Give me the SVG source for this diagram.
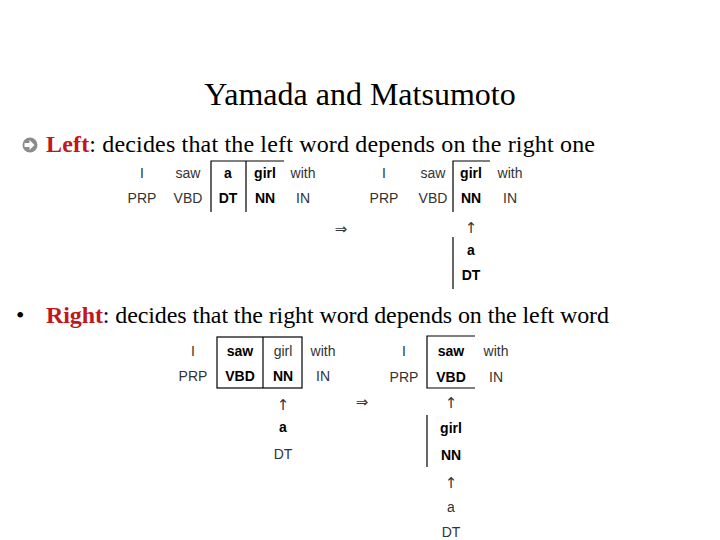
<svg xmlns="http://www.w3.org/2000/svg" width="720" height="540" viewBox="0 0 720 540">
<style>
.title{font-family:"Liberation Serif","Times New Roman",serif;font-size:32px;fill:#000}
.body{font-family:"Liberation Serif","Times New Roman",serif;font-size:24px;fill:#000}
.key{font-weight:bold;fill:#c0171e}
.t{font-family:"Liberation Sans",Arial,sans-serif;font-size:14px;fill:#333;text-anchor:middle}
.b{font-weight:bold;fill:#000}
.arr{font-family:"DejaVu Sans",sans-serif;font-size:15px;fill:#333;text-anchor:middle}
.imp{font-family:"DejaVu Sans",sans-serif;font-size:15px;fill:#333;text-anchor:middle}
.ln{stroke:#000;stroke-width:1.2;fill:none}
</style>
<rect width="720" height="540" fill="#fff"/>
<text class="title" x="360" y="105" text-anchor="middle">Yamada and Matsumoto</text>

<g id="bullet-left">
  <circle cx="30" cy="145" r="7.5" fill="#8c8c8c"/>
  <path d="M24.5,143 h5 v-3 l5,5 l-5,5 v-3 h-5 z" fill="#fff"/>
  <text class="body" x="46" y="152" textLength="549" lengthAdjust="spacing"><tspan class="key">Left</tspan>: decides that the left word depends on the right one</text>
</g>

<g id="left-before">
  <text class="t" x="142" y="178">I</text>
  <text class="t" x="188" y="178">saw</text>
  <text class="t b" x="228" y="178">a</text>
  <text class="t b" x="265" y="178">girl</text>
  <text class="t" x="303" y="178">with</text>
  <text class="t" x="142" y="203">PRP</text>
  <text class="t" x="188" y="203">VBD</text>
  <text class="t b" x="228" y="203">DT</text>
  <text class="t b" x="265" y="203">NN</text>
  <text class="t" x="303" y="203">IN</text>
  <path class="ln" d="M211,212 V161 H284 M246,161 V212"/>
</g>

<text id="implies-top" class="imp" x="341" y="234">⇒</text>

<g id="left-after">
  <text class="t" x="384" y="178">I</text>
  <text class="t" x="433" y="178">saw</text>
  <text class="t b" x="471" y="178">girl</text>
  <text class="t" x="510" y="178">with</text>
  <text class="t" x="384" y="203">PRP</text>
  <text class="t" x="433" y="203">VBD</text>
  <text class="t b" x="471" y="203">NN</text>
  <text class="t" x="510" y="203">IN</text>
  <path class="ln" d="M453,212 V161 H490"/>
  <text class="arr" x="471" y="233">↑</text>
  <text class="t b" x="471" y="255">a</text>
  <text class="t b" x="471" y="280">DT</text>
  <path class="ln" d="M453,237 V289"/>
</g>

<g id="bullet-right">
  <text class="body" x="16" y="323">•</text>
  <text class="body" x="46" y="323" textLength="563" lengthAdjust="spacing"><tspan class="key">Right</tspan>: decides that the right word depends on the left word</text>
</g>

<g id="right-before">
  <text class="t" x="193" y="356">I</text>
  <text class="t b" x="240" y="356">saw</text>
  <text class="t" x="283" y="356">girl</text>
  <text class="t" x="323" y="356">with</text>
  <text class="t" x="193" y="381">PRP</text>
  <text class="t b" x="240" y="381">VBD</text>
  <text class="t b" x="283" y="381">NN</text>
  <text class="t" x="323" y="381">IN</text>
  <rect class="ln" x="217" y="337" width="85" height="51"/>
  <path class="ln" d="M263,337 V388"/>
  <text class="arr" x="283" y="410">↑</text>
  <text class="t b" x="283" y="432">a</text>
  <text class="t" x="283" y="459">DT</text>
</g>

<text id="implies-bottom" class="imp" x="362" y="407">⇒</text>

<g id="right-after">
  <text class="t" x="404" y="356">I</text>
  <text class="t b" x="451" y="356">saw</text>
  <text class="t" x="496" y="356">with</text>
  <text class="t" x="404" y="382">PRP</text>
  <text class="t b" x="451" y="382">VBD</text>
  <text class="t" x="496" y="382">IN</text>
  <path class="ln" d="M475,336 H427 V388 H475"/>
  <text class="arr" x="451" y="408">↑</text>
  <text class="t b" x="451" y="433">girl</text>
  <text class="t b" x="451" y="460">NN</text>
  <path class="ln" d="M427,415 V467"/>
  <text class="arr" x="451" y="488">↑</text>
  <text class="t" x="451" y="512">a</text>
  <text class="t" x="451" y="537">DT</text>
</g>
</svg>
